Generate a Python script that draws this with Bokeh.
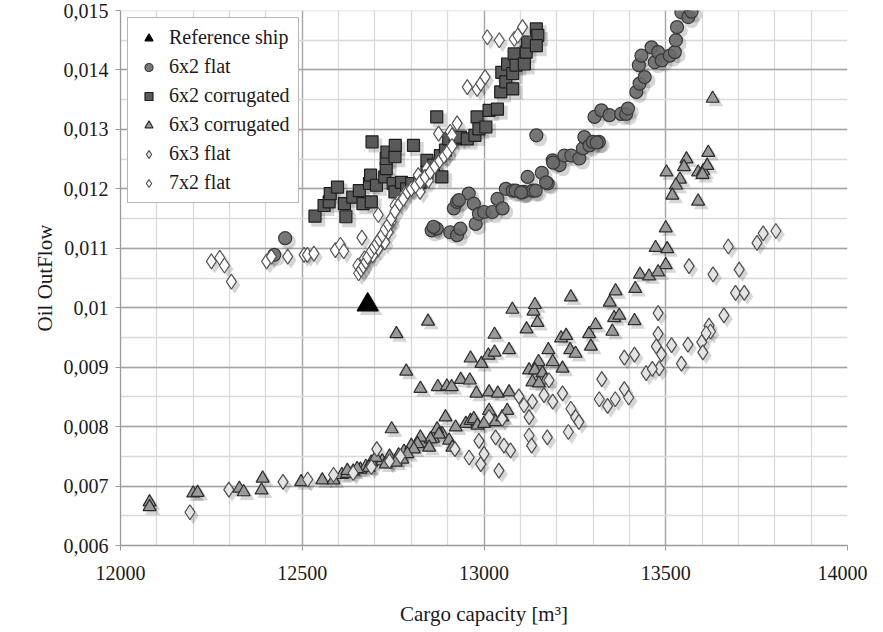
from bokeh.plotting import figure
from bokeh.models import Range1d, FixedTicker, Legend, LegendItem, ColumnDataSource
from bokeh.transform import dodge
from bokeh.embed import file_html
from bokeh.resources import INLINE

# ---------------- data ----------------
ref_x = [12680]
ref_y = [0.01005]

flat62_x = [12423, 12453, 12856, 12870, 12907, 12926, 12935, 12917, 12926, 12958,
            12972, 12977, 12986, 13000, 13023, 13037, 13051, 13060, 13079, 13087,
            13106, 13110, 13120, 13134, 13142, 13144, 13159, 13175, 13189, 13208,
            13221, 13240, 13262, 13272, 13276, 13290, 13299, 13316, 13304, 13323,
            13345, 13377, 13391, 13396, 13419, 13428, 13442, 13426, 13433, 13461,
            13470, 13479, 13489, 13511, 13525, 13528, 13531, 13543, 13562, 13571,
            12861, 12931, 13102, 13171, 13190, 13310]
flat62_y = [0.01089, 0.01117, 0.01130, 0.01133, 0.01127, 0.01122, 0.01133, 0.01167, 0.01178, 0.01192,
            0.01175, 0.01141, 0.01158, 0.01161, 0.01161, 0.01183, 0.01167, 0.01200, 0.01197, 0.01197,
            0.01195, 0.01195, 0.01220, 0.01197, 0.01197, 0.01290, 0.01227, 0.01209, 0.01248, 0.01240,
            0.01256, 0.01256, 0.01251, 0.01268, 0.01287, 0.01273, 0.01279, 0.01279, 0.01321, 0.01332,
            0.01324, 0.01326, 0.01326, 0.01335, 0.01363, 0.01377, 0.01388, 0.01408, 0.01424, 0.01438,
            0.01413, 0.01430, 0.01416, 0.01424, 0.01430, 0.01450, 0.01472, 0.01497, 0.01489, 0.01498,
            0.01136, 0.01181, 0.01194, 0.01211, 0.01244, 0.01278]

corr62_x = [12535, 12560, 12574, 12577, 12597, 12616, 12620, 12639, 12657, 12667,
            12690, 12685, 12688, 12692, 12704, 12727, 12731, 12731, 12733, 12755,
            12756, 12750, 12755, 12773, 12787, 12806, 12801, 12824, 12843, 12843,
            12861, 12880, 12884, 12870, 12894, 12903, 12921, 12935, 12954, 12975,
            12981, 12986, 13005, 13014, 13037, 13046, 13049, 13060, 13065, 13079,
            13079, 13083, 13088, 13111, 13116, 13120, 13144, 13148, 13144]
corr62_y = [0.01154, 0.01172, 0.01178, 0.01192, 0.01203, 0.01175, 0.01153, 0.01186, 0.01197, 0.01175,
            0.01178, 0.01209, 0.01223, 0.01279, 0.01206, 0.01220, 0.01234, 0.01251, 0.01262, 0.01254,
            0.01273, 0.01209, 0.01195, 0.01211, 0.01200, 0.01273, 0.01209, 0.01211, 0.01248, 0.01228,
            0.01240, 0.01256, 0.01220, 0.01321, 0.01265, 0.01284, 0.01284, 0.01287, 0.01284, 0.01290,
            0.01321, 0.01301, 0.01304, 0.01332, 0.01334, 0.01363, 0.01396, 0.01380, 0.01410, 0.01368,
            0.01394, 0.01427, 0.01408, 0.01410, 0.01430, 0.01447, 0.01469, 0.01458, 0.01441]

corr63_x = [12080, 12080, 12200, 12212, 12327, 12339, 12391, 12388, 12497, 12555,
            12586, 12609, 12623, 12640, 12660, 12675, 12690, 12720, 12740, 12765,
            12780, 12800, 12830, 12860, 12885, 12950,
            12759, 12846, 12786, 12825, 12873, 12898, 12911, 12936, 12961, 12963,
            12993, 13012, 13029, 13029, 12979, 13014, 13038, 13069, 13069, 13078,
            13117, 13136, 13140, 13147, 13124, 13150, 13177, 13189, 13216, 13212,
            13226, 13237, 13252, 13239, 13289, 13294, 13307, 13346, 13362, 13358,
            13372, 13353, 13416, 13414, 13429, 13454, 13140, 13161, 13170, 13133,
            13151, 12894, 12922, 12746, 12963, 12972, 12982, 13000, 13014, 13032,
            13050, 13064, 12871, 12876, 12853, 12825, 12817, 12807, 12789, 12775,
            12757, 12730, 12702, 12683, 12651, 12624, 12904, 12849, 12913,
            13617, 13557, 13550, 13502, 13539, 13528, 13518, 13589, 13603, 13614,
            13601, 13589, 13500, 13472, 13504, 13500, 13479, 13629]
corr63_y = [0.00673, 0.00665, 0.00688, 0.00689, 0.00696, 0.00690, 0.00713, 0.00693, 0.00707, 0.00710,
            0.00710, 0.00719, 0.00721, 0.00725, 0.00728, 0.00733, 0.00740, 0.00742, 0.00750, 0.00752,
            0.00758, 0.00768, 0.00772, 0.00780, 0.00788, 0.00805,
            0.00956, 0.00977, 0.00893, 0.00864, 0.00867, 0.00868, 0.00867, 0.00879, 0.00878, 0.00915,
            0.00906, 0.00920, 0.00925, 0.00955, 0.00856, 0.00858, 0.00856, 0.00858, 0.00929, 0.00997,
            0.00964, 0.00994, 0.01005, 0.00975, 0.00895, 0.00909, 0.00929, 0.00909, 0.00898, 0.00949,
            0.00953, 0.00929, 0.00923, 0.01018, 0.00956, 0.00935, 0.00971, 0.01009, 0.01028, 0.00983,
            0.00987, 0.00960, 0.01032, 0.00978, 0.01056, 0.01053, 0.00895, 0.00890, 0.00878, 0.00875,
            0.00873, 0.00816, 0.00799, 0.00796, 0.00810, 0.00813, 0.00802, 0.00805, 0.00827, 0.00808,
            0.00816, 0.00827, 0.00796, 0.00787, 0.00779, 0.00782, 0.00771, 0.00762, 0.00754, 0.00745,
            0.00740, 0.00737, 0.00748, 0.00731, 0.00729, 0.00726, 0.00777, 0.00765, 0.00765,
            0.01261, 0.01250, 0.01237, 0.01228, 0.01216, 0.01206, 0.01189, 0.01228, 0.01230, 0.01239,
            0.01224, 0.01179, 0.01134, 0.01101, 0.01099, 0.01072, 0.01060, 0.01352]

flat63_x = [12191, 12298, 12447, 12515, 12586, 12640, 12690, 12740, 12770,
            12705, 12920, 12959, 12986, 12991, 13000, 13014, 13032, 13041, 13050,
            13055, 13073, 13096, 13110, 13124, 13124, 13131, 13174, 13133, 13165,
            13179, 13189, 13216, 13239, 13252, 13261, 13232, 13317, 13324, 13340,
            13361, 13386, 13398, 13386, 13414, 13446,
            13803, 13768, 13751, 13672, 13564, 13630, 13702, 13692, 13716, 13479,
            13660, 13479, 13619, 13623, 13611, 13599, 13602, 13561, 13516, 13474,
            13488, 13482, 13463, 13543]
flat63_y = [0.00656, 0.00694, 0.00707, 0.00711, 0.00719, 0.00722, 0.00732, 0.00742, 0.00750,
            0.00762, 0.00762, 0.00748, 0.00776, 0.00737, 0.00754, 0.00816, 0.00782, 0.00726, 0.00813,
            0.00768, 0.00760, 0.00851, 0.00836, 0.00816, 0.00785, 0.00768, 0.00782, 0.00842, 0.00853,
            0.00878, 0.00842, 0.00856, 0.00830, 0.00816, 0.00808, 0.00791, 0.00846, 0.00880, 0.00835,
            0.00846, 0.00863, 0.00849, 0.00916, 0.00921, 0.00890,
            0.01129, 0.01125, 0.01109, 0.01103, 0.01070, 0.01056, 0.01064, 0.01025, 0.01025, 0.00991,
            0.00987, 0.00956, 0.00970, 0.00960, 0.00957, 0.00942, 0.00925, 0.00938, 0.00937, 0.00935,
            0.00922, 0.00898, 0.00897, 0.00906]

flat72_x = [12250, 12273, 12286, 12305, 12402, 12415, 12460, 12505, 12514, 12532,
            12591, 12605, 12614, 12664, 12709,
            13009, 13042, 13083, 13093, 13106, 12954, 12981, 12991, 13003, 12875,
            12907, 12926, 12912, 12819, 12843, 12847, 12824, 12782, 12764, 12755,
            12745, 12736, 12727, 12708, 12694, 12671, 12653,
            12655, 12662, 12668, 12675, 12680, 12690, 12698, 12705, 12712, 12720,
            12728, 12737, 12745, 12755, 12768, 12778, 12790, 12800, 12812, 12825,
            12838, 12852, 12865, 12878, 12890, 12900, 12912]
flat72_y = [0.01078, 0.01084, 0.01071, 0.01044, 0.01078, 0.01086, 0.01086, 0.01089, 0.01089, 0.01091,
            0.01097, 0.01106, 0.01095, 0.01118, 0.01156,
            0.01455, 0.01450, 0.01452, 0.01458, 0.01472, 0.01371, 0.01368, 0.01377, 0.01388, 0.01293,
            0.01296, 0.01310, 0.01290, 0.01223, 0.01234, 0.01214, 0.01195, 0.01192, 0.01178, 0.01172,
            0.01144, 0.01127, 0.01110, 0.01099, 0.01088, 0.01083, 0.01071,
            0.01058, 0.01064, 0.01070, 0.01077, 0.01085, 0.01095, 0.01102, 0.01108, 0.01115, 0.01122,
            0.01132, 0.01140, 0.01150, 0.01162, 0.01175, 0.01183, 0.01195, 0.01200, 0.01205, 0.01212,
            0.01220, 0.01228, 0.01238, 0.01247, 0.01255, 0.01262, 0.01272]

x_ticks = [12000, 12500, 13000, 13500, 14000]
x_tick_labels = ["12000", "12500", "13000", "13500", "14000"]
x_minor = [12000 + 100 * i for i in range(21)]
y_ticks = [0.006, 0.007, 0.008, 0.009, 0.010, 0.011, 0.012, 0.013, 0.014, 0.015]
y_tick_labels = ["0,006", "0,007", "0,008", "0,009", "0,01", "0,011", "0,012", "0,013", "0,014", "0,015"]
y_minor = [0.006 + 0.0005 * i for i in range(19)]

FONT = "Liberation Serif"

p = figure(frame_width=727, frame_height=535, output_backend="svg", toolbar_location=None,
           x_range=Range1d(12000, 14000), y_range=Range1d(0.006, 0.015),
           min_border_left=120, min_border_right=20, min_border_top=10, min_border_bottom=60,
           background_fill_color="white", border_fill_color="white")
p.outline_line_color = None

p.xaxis.ticker = FixedTicker(ticks=x_ticks, minor_ticks=x_minor)
p.yaxis.ticker = FixedTicker(ticks=y_ticks, minor_ticks=y_minor)
p.xaxis.major_label_overrides = {t: l for t, l in zip(x_ticks, x_tick_labels)}
p.yaxis.major_label_overrides = {t: l for t, l in zip(y_ticks, y_tick_labels)}

for ax in (p.xaxis, p.yaxis):
    ax.axis_line_color = "#9a9a9a"
    ax.axis_line_width = 1.3
    ax.major_tick_line_color = "#9a9a9a"
    ax.major_tick_out = 5
    ax.major_tick_in = 0
    ax.minor_tick_out = 0
    ax.minor_tick_in = 0
    ax.major_label_text_font = FONT
    ax.major_label_text_font_size = "20px"
    ax.major_label_text_color = "#1a1a1a"
    ax.axis_label_text_font = FONT
    ax.axis_label_text_font_size = "21px"
    ax.axis_label_text_font_style = "normal"
    ax.axis_label_text_color = "#1a1a1a"

p.xaxis.axis_label = "Cargo capacity [m³]"
p.yaxis.axis_label = "Oil OutFlow"
p.xaxis.major_label_standoff = 15
p.xaxis.axis_label_standoff = 19
p.yaxis.major_label_standoff = 7
p.yaxis.axis_label_standoff = 4

for g in (p.xgrid, p.ygrid):
    g.grid_line_color = "#a4a4a4"
    g.grid_line_width = 1.3
    g.minor_grid_line_color = "#d9d9d9"
    g.minor_grid_line_width = 1.3

series = [
    ("Reference ship", ref_x, ref_y, "triangle", 21, "#000000", "#000000", 1.0),
    ("6x2 flat", flat62_x, flat62_y, "circle", 13, "#6a6a6a", "#383838", 0.9),
    ("6x2 corrugated", corr62_x, corr62_y, "square", 12, "#5a5a5a", "#1e1e1e", 1.0),
    ("6x3 corrugated", corr63_x, corr63_y, "triangle", 13, "#9a9a9a", "#2b2b2b", 1.0),
    ("6x3 flat", flat63_x, flat63_y, "diamond", 15, "#e4e4e4", "#4d4d4d", 1.0),
    ("7x2 flat", flat72_x, flat72_y, "diamond", 15, "#ffffff", "#555555", 1.0),
]

sources = []
for name, xs, ys, marker, size, fill, line, alpha in series:
    src = ColumnDataSource(data=dict(x=xs, y=ys))
    sources.append(src)
    # soft drop shadow, derived from the same data
    p.scatter(x=dodge("x", 9, range=p.x_range), y=dodge("y", -0.00006, range=p.y_range),
              source=src, marker=marker, size=size + 2, fill_color="#000000",
              fill_alpha=0.16, line_color=None)

items = []
for (name, xs, ys, marker, size, fill, line, alpha), src in zip(series, sources):
    r = p.scatter(x="x", y="y", source=src, marker=marker, size=size,
                  fill_color=fill, fill_alpha=alpha, line_color=line, line_width=1.2)
    items.append(LegendItem(label=name, renderers=[r]))

legend = Legend(items=items, location="top_left", margin=7,
                label_text_font=FONT, label_text_font_size="20px", label_text_color="#1a1a1a",
                border_line_color="#6e6e6e", border_line_width=1.2,
                background_fill_color="white", background_fill_alpha=1.0,
                padding=8, spacing=6, glyph_width=25, glyph_height=20, label_height=20,
                label_standoff=8)
p.add_layout(legend, "center")

open("out.html", "w").write(file_html(p, INLINE))
